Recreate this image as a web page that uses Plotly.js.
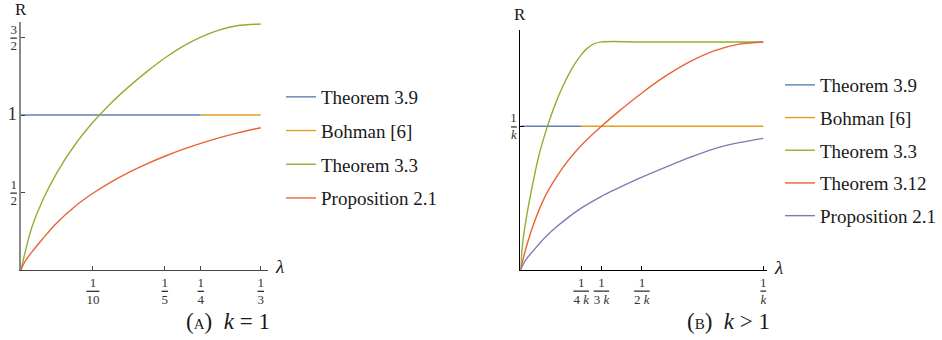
<!DOCTYPE html>
<html>
<head>
<meta charset="utf-8">
<script src="https://cdn.plot.ly/plotly-3.0.1.min.js"></script>
<style>
  html, body { margin: 0; padding: 0; background: white; }
  #plot { width: 942px; height: 340px; }
</style>
</head>
<body>
<div id="plot"></div>
<script>
// (A) k = 1, lambda in absolute units
const blueLamA = [0, 0.25];
const blueValA = [1, 1];
const orangeLamA = [0.25, 1 / 3];
const orangeValA = [1, 1];
const greenLamA = [0, 0.005, 0.015, 0.03, 0.05, 0.075, 0.1, 0.125, 0.15, 0.175, 0.2, 0.225, 0.25, 0.275, 0.3, 1 / 3];
const greenValA = [0, 0.10, 0.274, 0.448, 0.628, 0.808, 0.953, 1.076, 1.183, 1.28, 1.368, 1.443, 1.503, 1.548, 1.576, 1.587];
const redLamA = [0, 0.005, 0.015, 0.03, 0.05, 0.075, 0.1, 0.125, 0.15, 0.175, 0.2, 0.225, 0.25, 0.275, 0.3, 1 / 3];
const redValA = [0, 0.05, 0.115, 0.2, 0.305, 0.41, 0.495, 0.567, 0.63, 0.685, 0.734, 0.778, 0.817, 0.852, 0.883, 0.918];

// (B) k > 1, lambda in units of 1/k, R in units of 1/k
const blueLamB = [0, 0.25];
const blueValB = [1, 1];
const orangeLamB = [0.25, 1];
const orangeValB = [1, 1];
const greenLamB = [0, 0.01, 0.025, 0.05, 0.075, 0.1, 0.125, 0.15, 0.175, 0.2, 0.225, 0.25, 0.275, 0.3, 1 / 3, 0.5, 0.75, 1];
const greenValB = [0, 0.2, 0.37, 0.595, 0.79, 0.94, 1.07, 1.182, 1.28, 1.365, 1.437, 1.497, 1.542, 1.572, 1.587, 1.587, 1.587, 1.587];
const redLamB = [0, 0.01, 0.025, 0.05, 0.1, 0.15, 0.2, 0.25, 1 / 3, 0.4, 0.5, 0.6, 0.7, 0.8, 0.9, 1];
const redValB = [0, 0.07, 0.165, 0.3, 0.507, 0.652, 0.77, 0.867, 1.0, 1.097, 1.232, 1.352, 1.452, 1.527, 1.572, 1.587];
const purpleLamB = [0, 0.01, 0.025, 0.05, 0.1, 0.15, 0.2, 0.25, 1 / 3, 0.4, 0.5, 0.6, 0.7, 0.8, 0.9, 1];
const purpleValB = [0, 0.036, 0.078, 0.128, 0.225, 0.303, 0.37, 0.43, 0.513, 0.568, 0.646, 0.717, 0.785, 0.845, 0.886, 0.916];

const xTickValsA = [0.1, 0.2, 0.25, 1 / 3];
const xTickDenA = ['10', '5', '4', '3'];
const yTickValsA = [0.5, 1, 1.5];
const xTickValsB = [0.25, 1 / 3, 0.5, 1];
const xTickDenB = ['4 <i>k</i>', '3 <i>k</i>', '2 <i>k</i>', '<i>k</i>'];
const yTickValsB = [1];

const colors = {
    blue: '#5E81B5',
    orange: '#E19C24',
    green: '#8FB032',
    red: '#EB6235',
    purple: '#8778B3'
};

const serif = "'Liberation Serif', serif";

function frac(num, den) {
    return num + '<br><span style="text-decoration:overline">' + den + '</span>';
}

function line(x, y, color, name, xa, ya, legend, group) {
    return {
        x: x, y: y,
        type: 'scatter',
        mode: 'lines',
        name: name,
        xaxis: xa, yaxis: ya,
        legend: legend,
        legendgroup: group,
        line: { color: color, width: 1.4, shape: 'spline', smoothing: 1, simplify: false },
        hoverinfo: 'skip'
    };
}

const traces = [
    line(blueLamA, blueValA, colors.blue, 'Theorem 3.9', 'x', 'y', 'legend', 'a1'),
    line(orangeLamA, orangeValA, colors.orange, 'Bohman [6]', 'x', 'y', 'legend', 'a2'),
    line(greenLamA, greenValA, colors.green, 'Theorem 3.3', 'x', 'y', 'legend', 'a3'),
    line(redLamA, redValA, colors.red, 'Proposition 2.1', 'x', 'y', 'legend', 'a4'),

    line(blueLamB, blueValB, colors.blue, 'Theorem 3.9', 'x2', 'y2', 'legend2', 'b1'),
    line(orangeLamB, orangeValB, colors.orange, 'Bohman [6]', 'x2', 'y2', 'legend2', 'b2'),
    line(greenLamB, greenValB, colors.green, 'Theorem 3.3', 'x2', 'y2', 'legend2', 'b3'),
    line(redLamB, redValB, colors.red, 'Theorem 3.12', 'x2', 'y2', 'legend2', 'b4'),
    line(purpleLamB, purpleValB, colors.purple, 'Proposition 2.1', 'x2', 'y2', 'legend2', 'b5')
];

const tickFont = { family: serif, size: 13, color: '#333' };
const legendFont = { family: serif, size: 19, color: '#1a1a1a' };

const axisBase = {
    showgrid: false,
    zeroline: false,
    showline: true,
    ticks: 'inside',
    ticklen: 4,
    tickwidth: 1,
    tickfont: tickFont,
    tickmode: 'array',
    fixedrange: true
};

const layout = {
    width: 942,
    height: 340,
    margin: { l: 0, r: 0, t: 0, b: 0 },
    paper_bgcolor: 'white',
    plot_bgcolor: 'white',
    font: { family: serif, color: '#1a1a1a' },
    xaxis: Object.assign({}, axisBase, {
        domain: [21 / 942, 268 / 942],
        range: [0, 0.343],
        anchor: 'y',
        linecolor: '#444',
        linewidth: 1.2,
        tickcolor: '#444',
        tickvals: xTickValsA,
        ticktext: xTickDenA.map(d => frac('1', d))
    }),
    yaxis: Object.assign({}, axisBase, {
        domain: [70 / 340, 318 / 340],
        range: [0, 1.6],
        anchor: 'x',
        linecolor: '#8a8a8a',
        linewidth: 1.5,
        tickcolor: '#444',
        tickvals: yTickValsA,
        ticktext: [frac('1', '2'), '<span style="font-size:19px">1</span>', frac('3', '2')]
    }),
    xaxis2: Object.assign({}, axisBase, {
        domain: [521 / 942, 768 / 942],
        range: [0, 1.016],
        anchor: 'y2',
        linecolor: '#000',
        linewidth: 1,
        tickcolor: '#000',
        tickvals: xTickValsB,
        ticktext: xTickDenB.map(d => frac('1', d))
    }),
    yaxis2: Object.assign({}, axisBase, {
        domain: [70 / 340, 310 / 340],
        range: [0, 1.67],
        anchor: 'x2',
        linecolor: '#000',
        linewidth: 1,
        tickcolor: '#000',
        tickvals: yTickValsB,
        ticktext: [frac('1', '<i>k</i>')]
    }),
    legend: {
        x: 281 / 942, xanchor: 'left',
        y: (340 - 78) / 340, yanchor: 'top',
        font: legendFont,
        traceorder: 'grouped',
        tracegroupgap: 6,
        bgcolor: 'rgba(0,0,0,0)'
    },
    legend2: {
        x: 781 / 942, xanchor: 'left',
        y: (340 - 66) / 340, yanchor: 'top',
        font: legendFont,
        traceorder: 'grouped',
        tracegroupgap: 5,
        bgcolor: 'rgba(0,0,0,0)'
    },
    annotations: [
        { text: 'R', xref: 'x domain', x: 0, xanchor: 'center', yref: 'paper', y: 1 - 9 / 340, yanchor: 'middle',
          showarrow: false, font: { family: serif, size: 17 } },
        { text: '<i>λ</i>', xref: 'paper', x: 280 / 942, xanchor: 'center', yref: 'y', y: 0.02, yanchor: 'middle',
          showarrow: false, font: { family: serif, size: 19 } },
        { text: 'R', xref: 'x2 domain', x: 0, xanchor: 'center', yref: 'paper', y: 1 - 15 / 340, yanchor: 'middle',
          showarrow: false, font: { family: serif, size: 17 } },
        { text: '<i>λ</i>', xref: 'paper', x: 779 / 942, xanchor: 'center', yref: 'y2', y: 0.02, yanchor: 'middle',
          showarrow: false, font: { family: serif, size: 19 } },
        { text: '(<span style="font-size:15px">A</span>)&nbsp;&nbsp;<i>k</i>&nbsp;=&nbsp;1', xref: 'paper', x: 228 / 942,
          xanchor: 'center', yref: 'paper', y: 1 - 321 / 340, yanchor: 'middle', showarrow: false,
          font: { family: serif, size: 23 } },
        { text: '(<span style="font-size:15px">B</span>)&nbsp;&nbsp;<i>k</i>&nbsp;&gt;&nbsp;1', xref: 'paper', x: 729 / 942,
          xanchor: 'center', yref: 'paper', y: 1 - 321 / 340, yanchor: 'middle', showarrow: false,
          font: { family: serif, size: 23 } }
    ]
};

Plotly.newPlot('plot', traces, layout, { displayModeBar: false, staticPlot: true });
</script>
</body>
</html>
